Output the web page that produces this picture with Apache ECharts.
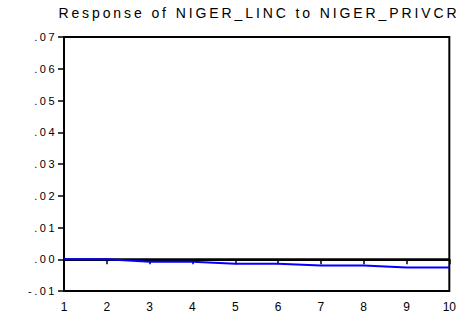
<!DOCTYPE html>
<html>
<head>
<meta charset="utf-8">
<script src="https://cdn.jsdelivr.net/npm/echarts@6/dist/echarts.min.js"></script>
<style>
html,body{margin:0;padding:0;background:#fff;}
#chart{width:459px;height:320px;}
</style>
</head>
<body>
<div id="chart"></div>
<script>
var titleText = 'Response of NIGER_LINC to NIGER_PRIVCR';
var periods = ['1','2','3','4','5','6','7','8','9','10'];
var response = [0.0000, 0.0000, -0.0008, -0.0008, -0.0014, -0.0014, -0.0020, -0.0020, -0.0026, -0.0026];
var zeroLine = [0, 0, 0, 0, 0, 0, 0, 0, 0, 0];
var yTicks = [-0.01, 0.00, 0.01, 0.02, 0.03, 0.04, 0.05, 0.06, 0.07];

var chart = echarts.init(document.getElementById('chart'), null, {renderer: 'svg'});
var font = 'Liberation Sans, Arial, sans-serif';
chart.setOption({
  animation: false,
  backgroundColor: '#fff',
  title: {
    text: titleText,
    left: 254, top: 1, textAlign: 'center',
    textStyle: {fontFamily: font, fontSize: 14, fontWeight: 'normal', color: '#000'}
  },
  grid: {left: 64, right: 9, top: 37, bottom: 29, show: true, borderColor: '#000', borderWidth: 2, backgroundColor: 'transparent'},
  xAxis: {
    type: 'category', data: periods, boundaryGap: false,
    axisLine: {lineStyle: {color: '#000', width: 2}},
    axisTick: {show: true, length: 5, inside: false, lineStyle: {color: '#000', width: 1.5}},
    axisLabel: {color: '#000', fontFamily: font, fontSize: 12, margin: 10},
    splitLine: {show: false}
  },
  yAxis: {
    type: 'value', min: -0.01, max: 0.07, interval: 0.01,
    axisLine: {show: true, lineStyle: {color: '#000', width: 2}},
    axisTick: {show: true, length: 6, lineStyle: {color: '#000', width: 1.5}},
    axisLabel: {color: '#000', fontFamily: font, fontSize: 11, margin: 7,
      formatter: function (v) {
        var s = Math.abs(v).toFixed(2).replace(/^0/, '');
        return (v < -1e-9 ? '-' : '') + s;
      }},
    splitLine: {show: false}
  },
  series: [
    {type: 'line', data: zeroLine, symbol: 'none', lineStyle: {color: '#000', width: 2}, silent: true, z: 2},
    {type: 'line', data: response, symbol: 'none', lineStyle: {color: '#0000ff', width: 2}, z: 3}
  ]
});
// widen letter spacing to match the reference's spaced-out lettering
var texts = document.querySelectorAll('#chart svg text');
texts.forEach(function (t) {
  var c = t.textContent;
  if (c.indexOf('Response') === 0) {
    t.setAttribute('letter-spacing', '2.9px');
  } else if (/^-?\.\d\d$/.test(c)) {
    t.setAttribute('letter-spacing', '2.5px');
  }
});
</script>
</body>
</html>
